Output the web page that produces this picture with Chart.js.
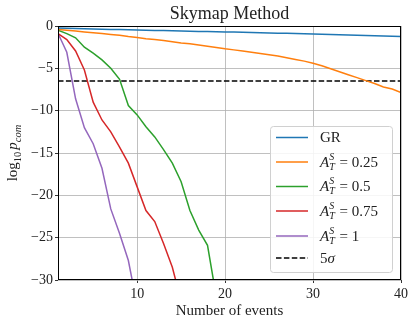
<!DOCTYPE html>
<html>
<head>
<meta charset="utf-8">
<script src="https://cdn.jsdelivr.net/npm/chart.js@4.4.0/dist/chart.umd.min.js"></script>
<style>
  html, body { margin: 0; padding: 0; background: #fff; }
  #wrap { width: 415px; height: 325px; }
</style>
</head>
<body>
<div id="wrap"><canvas id="chart" width="415" height="325"></canvas></div>
<script>
// ---- data ----
const events = [1, 2, 3, 4, 5, 6, 7, 8, 9, 10, 11, 12, 13, 14, 15, 16, 17, 18, 19, 20,
                21, 22, 23, 24, 25, 26, 27, 28, 29, 30, 31, 32, 33, 34, 35, 36, 37, 38, 39, 40];

const gr = [-0.25, -0.28, -0.30, -0.33, -0.35, -0.37, -0.40, -0.42, -0.44, -0.47,
            -0.49, -0.52, -0.54, -0.57, -0.59, -0.62, -0.64, -0.66, -0.68, -0.70,
            -0.72, -0.75, -0.77, -0.80, -0.82, -0.85, -0.87, -0.90, -0.92, -0.95,
            -0.98, -1.00, -1.03, -1.06, -1.09, -1.12, -1.15, -1.18, -1.21, -1.25];

const at025 = [-0.40, -0.50, -0.60, -0.70, -0.80, -0.90, -1.00, -1.10, -1.25, -1.37,
               -1.50, -1.60, -1.72, -1.85, -2.00, -2.10, -2.25, -2.40, -2.55, -2.70,
               -2.82, -2.95, -3.10, -3.25, -3.40, -3.55, -3.75, -3.95, -4.15, -4.40,
               -4.70, -5.05, -5.40, -5.75, -6.10, -6.45, -6.80, -7.20, -7.45, -7.85];

const at05 = [-0.5, -0.9, -1.4, -2.5, -3.2, -4.0, -5.0, -6.3, -9.4, -10.5,
              -11.9, -13.1, -14.6, -16.2, -18.4, -21.8, -24.1, -25.9, -32.0];

const at075 = [-0.9, -1.6, -2.95, -5.2, -9.0, -11.1, -12.5, -14.3, -16.2, -19.0,
               -21.8, -23.1, -25.7, -28.5, -32.5];

const at1 = [-0.86, -3.1, -8.6, -12.0, -13.9, -16.8, -21.6, -24.5, -27.7, -33.0];

const fiveSigma = -6.5;

const xTicks = [10, 20, 30, 40];
const yTicks = [-30, -25, -20, -15, -10, -5, 0];

const SERIF = '"Liberation Serif", "Times New Roman", serif';

function pts(arr) {
    return arr.map((v, i) => ({ x: events[i], y: v }));
}

function minus(v) {
    return v < 0 ? '\u2212' + Math.abs(v) : String(v);
}

// draws a run of text pieces (normal / italic / sub / sup) starting at x
function drawRich(ctx, x, y, parts) {
    parts.forEach(p => {
        ctx.font = (p.italic ? 'italic ' : '') + p.size + 'px ' + SERIF;
        ctx.fillText(p.t, x, y + (p.dy || 0));
        if (!p.stack) x += ctx.measureText(p.t).width + (p.gap || 0);
    });
    return x;
}

function richWidth(ctx, parts) {
    let w = 0;
    parts.forEach(p => {
        ctx.font = (p.italic ? 'italic ' : '') + p.size + 'px ' + SERIF;
        if (!p.stack) w += ctx.measureText(p.t).width + (p.gap || 0);
    });
    return w;
}

function amp(val) {
    return [
        { t: 'A', italic: true, size: 15 },
        { t: 'S', italic: true, size: 10, dy: -6, stack: true },
        { t: 'T', italic: true, size: 10, dy: 4, gap: 1 },
        { t: ' = ' + val, size: 15 }
    ];
}

const legendItems = [
    { parts: [{ t: 'GR', size: 15 }], color: '#1f77b4', dash: [] },
    { parts: amp('0.25'), color: '#ff7f0e', dash: [] },
    { parts: amp('0.5'), color: '#2ca02c', dash: [] },
    { parts: amp('0.75'), color: '#d62728', dash: [] },
    { parts: amp('1'), color: '#9467bd', dash: [] },
    { parts: [{ t: '5', size: 15 }, { t: '\u03c3', italic: true, size: 15 }], color: '#000', dash: [5.5, 2.4] }
];

const decorations = {
    id: 'decorations',
    afterDraw(chart) {
        const ctx = chart.ctx;
        const a = chart.chartArea;
        ctx.save();

        // frame on all four sides
        ctx.strokeStyle = '#000';
        ctx.lineWidth = 1;
        ctx.strokeRect(Math.round(a.left) + 0.5, Math.round(a.top) + 0.5,
                       Math.round(a.right - a.left) - 1, Math.round(a.bottom - a.top) - 1);

        // title
        ctx.fillStyle = '#222';
        ctx.textAlign = 'center';
        ctx.textBaseline = 'alphabetic';
        ctx.font = '18px ' + SERIF;
        ctx.fillText('Skymap Method', (a.left + a.right) / 2, 19);

        // y axis label: log10 p_com
        const yParts = [
            { t: 'log', size: 15 },
            { t: '10', size: 10.5, dy: 3.5, gap: 2 },
            { t: 'p', italic: true, size: 15 },
            { t: 'com', italic: true, size: 10.5, dy: 3.5 }
        ];
        ctx.save();
        ctx.translate(17, (a.top + a.bottom) / 2);
        ctx.rotate(-Math.PI / 2);
        ctx.textAlign = 'left';
        const yw = richWidth(ctx, yParts);
        drawRich(ctx, -yw / 2, 0, yParts);
        ctx.restore();

        // legend box
        const bx = 270.5, by = 126.5, bw = 122, bh = 146, r = 3;
        ctx.fillStyle = 'rgba(255,255,255,0.85)';
        ctx.strokeStyle = '#d0d0d0';
        ctx.lineWidth = 1;
        ctx.beginPath();
        ctx.roundRect(bx, by, bw, bh, r);
        ctx.fill();
        ctx.stroke();

        const rowY = [137.5, 162, 186.5, 211, 236, 258];
        ctx.textAlign = 'left';
        ctx.textBaseline = 'middle';
        legendItems.forEach((item, i) => {
            const y = rowY[i];
            ctx.strokeStyle = item.color;
            ctx.lineWidth = 1.5;
            ctx.setLineDash(item.dash);
            ctx.beginPath();
            ctx.moveTo(276, y);
            ctx.lineTo(308, y);
            ctx.stroke();
            ctx.setLineDash([]);
            ctx.fillStyle = '#222';
            drawRich(ctx, 320, y + 1, item.parts);
        });

        ctx.restore();
    }
};

const lineStyle = { borderWidth: 1.5, pointRadius: 0, tension: 0, fill: false };

new Chart(document.getElementById('chart'), {
    type: 'line',
    data: {
        datasets: [
            { label: 'GR', data: pts(gr), borderColor: '#1f77b4', ...lineStyle },
            { label: 'A = 0.25', data: pts(at025), borderColor: '#ff7f0e', ...lineStyle },
            { label: 'A = 0.5', data: pts(at05), borderColor: '#2ca02c', ...lineStyle },
            { label: 'A = 0.75', data: pts(at075), borderColor: '#d62728', ...lineStyle },
            { label: 'A = 1', data: pts(at1), borderColor: '#9467bd', ...lineStyle },
            {
                label: '5 sigma',
                data: [{ x: events[0], y: fiveSigma }, { x: events[events.length - 1], y: fiveSigma }],
                borderColor: '#000', borderDash: [5.5, 2.4], ...lineStyle
            }
        ]
    },
    options: {
        responsive: false,
        animation: false,
        events: [],
        layout: { padding: { top: 26, right: 14, left: 0, bottom: 0 } },
        plugins: {
            legend: { display: false },
            title: { display: false },
            tooltip: { enabled: false }
        },
        scales: {
            x: {
                type: 'linear',
                min: 1,
                max: 40,
                afterBuildTicks(scale) { scale.ticks = xTicks.map(v => ({ value: v })); },
                afterFit(scale) { scale.height = 45; },
                grid: { color: '#b0b0b0', lineWidth: 0.8, tickLength: 3, tickColor: '#000', drawTicks: true },
                border: { display: false },
                ticks: { color: '#222', font: { family: SERIF, size: 14 }, padding: 3, maxRotation: 0 },
                title: {
                    display: true,
                    text: 'Number of events',
                    color: '#222',
                    font: { family: SERIF, size: 15 },
                    padding: { top: 0, bottom: 5 }
                }
            },
            y: {
                type: 'linear',
                min: -30,
                max: 0,
                afterBuildTicks(scale) { scale.ticks = yTicks.map(v => ({ value: v })); },
                afterFit(scale) { scale.width = 58; },
                grid: { color: '#b0b0b0', lineWidth: 0.8, tickLength: 3, tickColor: '#000', drawTicks: true },
                border: { display: false },
                ticks: {
                    color: '#222',
                    font: { family: SERIF, size: 14 },
                    padding: 2,
                    callback: v => minus(v)
                }
            }
        }
    },
    plugins: [decorations]
});
</script>
</body>
</html>
